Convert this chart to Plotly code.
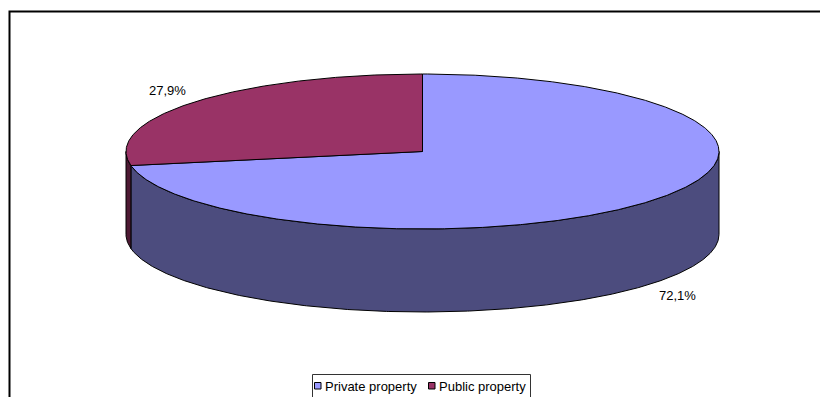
import numpy as np
import plotly.graph_objects as go

# Ownership split
categories = ["Private property", "Public property"]
shares = [72.1, 27.9]

# Slice colours: lit top face and shaded side wall
top_colors = ["#9999FF", "#993366"]
side_colors = ["#4C4C7E", "#4D1933"]

# Pie geometry in pixel units (axes are mapped 1:1 to the canvas)
W, H = 820, 397
CX, CY = 422.5, 151.5
RX, RY = 296.5, 77.5
DEPTH = 83
LABEL_FX, LABEL_FY = 1.12, 1.24


def rim(theta_deg, drop=0.0):
    t = np.radians(theta_deg)
    return CX + RX * np.cos(t), CY - RY * np.sin(t) + drop


def fmt(v):
    return f"{v:.1f}".replace(".", ",") + "%"


fig = go.Figure()

total = sum(shares)
start = 90.0
spans = []
for v in shares:
    end = start - v / total * 360.0
    spans.append((end, start))
    start = end

# Side walls: only the front half of the rim (angles where sin < 0) is visible
for (a, b), col in zip(spans, side_colors):
    for lo, hi in [(-180, 0), (-540, -360), (180, 360)]:
        s0, s1 = max(a, lo), min(b, hi)
        if s1 <= s0:
            continue
        th = np.linspace(s0, s1, max(int((s1 - s0) * 3), 4))
        xt, yt = rim(th)
        xb, yb = rim(th[::-1], DEPTH)
        fig.add_trace(go.Scatter(
            x=np.concatenate([xt, xb, xt[:1]]),
            y=np.concatenate([yt, yb, yt[:1]]),
            mode="lines", fill="toself", fillcolor=col,
            line=dict(color="black", width=1),
            hoverinfo="skip", showlegend=False,
        ))

# Top faces of the slices
for (a, b), col, name in zip(spans, top_colors, categories):
    th = np.linspace(a, b, max(int((b - a) * 3), 4))
    xa, ya = rim(th)
    fig.add_trace(go.Scatter(
        x=np.concatenate([[CX], xa, [CX]]),
        y=np.concatenate([[CY], ya, [CY]]),
        mode="lines", fill="toself", fillcolor=col,
        line=dict(color="black", width=1),
        hoverinfo="skip", showlegend=False, name=name,
    ))

# Percentage labels placed outside each slice at its mid-angle
annotations = []
for (a, b), v in zip(spans, shares):
    mid = np.radians((a + b) / 2)
    drop = DEPTH if np.sin(mid) < 0 else 0
    lx = CX + LABEL_FX * RX * np.cos(mid)
    ly = CY - LABEL_FY * RY * np.sin(mid) + drop
    annotations.append(dict(
        x=lx, y=ly, text=fmt(v), showarrow=False,
        xanchor="center", yanchor="middle",
        font=dict(family="Liberation Sans, Arial", size=13, color="black"),
    ))

# Legend: bordered box with colour keys
shapes = [
    dict(type="rect", x0=9.5, y0=11.5, x1=W + 20, y1=H + 20,
         line=dict(color="black", width=2), fillcolor="rgba(0,0,0,0)", layer="above"),
    dict(type="rect", x0=312.5, y0=374.5, x1=530.5, y1=H + 10,
         line=dict(color="#333333", width=1), fillcolor="white", layer="above"),
]
legend_keys = [(314.5, 323), (428.5, 437)]
for (kx, tx), col, name in zip(legend_keys, top_colors, categories):
    shapes.append(dict(type="rect", x0=kx, y0=382.5, x1=kx + 6.5, y1=389,
                       line=dict(color="black", width=1), fillcolor=col, layer="above"))
    annotations.append(dict(
        x=tx, y=386, text=name, showarrow=False, xanchor="left", yanchor="middle",
        font=dict(family="Liberation Sans, Arial", size=13, color="black"),
    ))

fig.update_layout(
    width=W, height=H,
    margin=dict(l=0, r=0, t=0, b=0),
    paper_bgcolor="white", plot_bgcolor="white",
    xaxis=dict(range=[0, W], visible=False, fixedrange=True),
    yaxis=dict(range=[H, 0], visible=False, fixedrange=True),
    showlegend=False,
    shapes=shapes,
    annotations=annotations,
)

fig.write_html("out.html")
